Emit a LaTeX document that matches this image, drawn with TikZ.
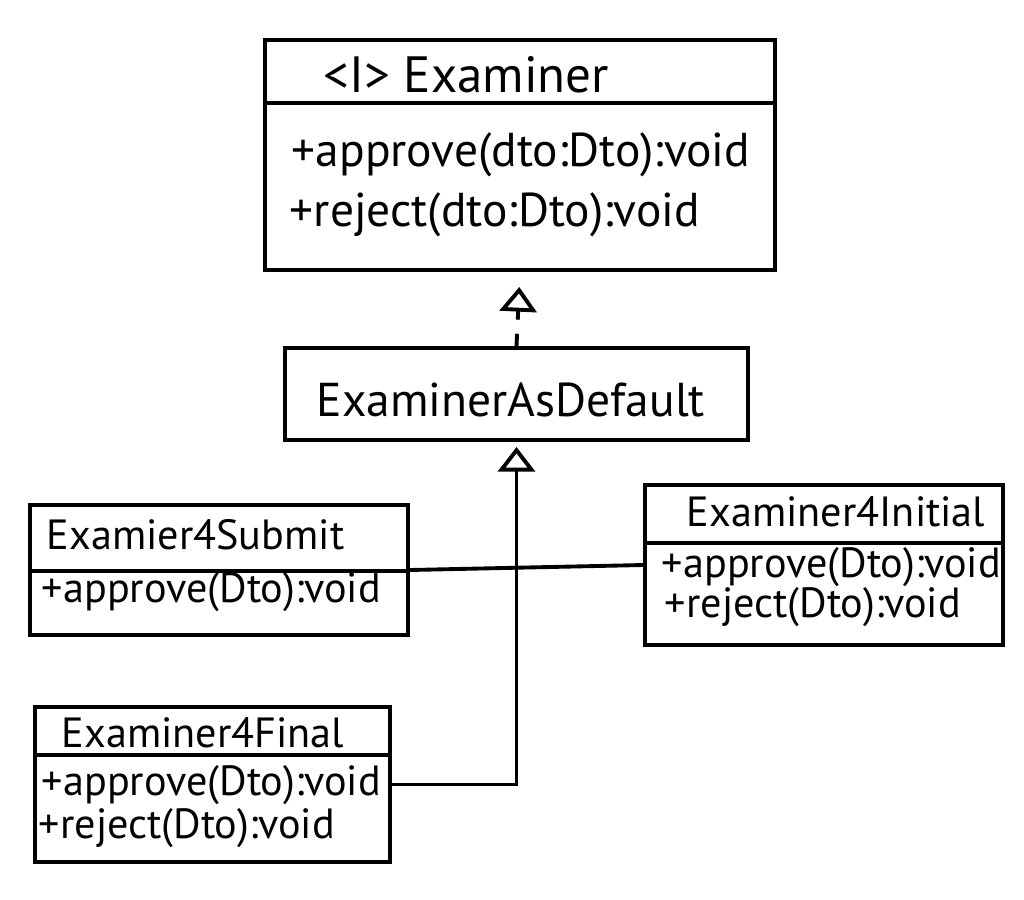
\documentclass[tikz,border=0pt]{standalone}
\usepackage{fontspec}
\setmainfont{PT Sans}
\usetikzlibrary{arrows.meta}

\begin{document}
\begin{tikzpicture}[x=0.01cm,y=-0.01cm,line width=1.1pt,
    classbox/.style={draw,rectangle,inner sep=0pt},
    member/.style={inner sep=0pt,anchor=west,font=\fontsize{12}{14}\selectfont},
    bigmember/.style={member,font=\fontsize{13.5}{16}\selectfont},
    inherit/.style={-{Triangle[open,length=7pt,width=10.5pt]}}]
  \useasboundingbox (0,0) rectangle (1024,899);
  % class boxes
  \node[classbox,minimum width=5.1cm,minimum height=2.3cm] (exm) at (520,155) {};
  \node[classbox,minimum width=4.63cm,minimum height=0.92cm] (dflt) at (516.5,394) {};
  \node[classbox,minimum width=3.78cm,minimum height=1.3cm] (sub) at (219,570) {};
  \node[classbox,minimum width=3.58cm,minimum height=1.6cm] (ini) at (824,565) {};
  \node[classbox,minimum width=3.55cm,minimum height=1.55cm] (fin) at (212.5,784.5) {};
  \draw ([yshift=-0.65cm]exm.north west) -- ([yshift=-0.65cm]exm.north east);
  \draw ([yshift=-0.68cm]sub.north west) -- ([yshift=-0.68cm]sub.north east);
  \draw ([yshift=-0.6cm]ini.north west) -- ([yshift=-0.6cm]ini.north east);
  \draw ([yshift=-0.5cm]fin.north west) -- ([yshift=-0.5cm]fin.north east);
  % texts
  \node[bigmember,font=\fontsize{14.5}{17}\selectfont] (exmTitle) at (322,75) {<I> Examiner};
  \node[bigmember] (exmApprove) at (290,155) {+approve(dto:Dto):void};
  \node[bigmember] (exmReject) at (288,215) {+reject(dto:Dto):void};
  \node[bigmember] (dfltTitle) at (315,400) {ExaminerAsDefault};
  \node[member] (subTitle) at (45,535) {Examier4Submit};
  \node[member] (subApprove) at (40,592) {+approve(Dto):void};
  \node[member] (iniTitle) at (685,512) {Examiner4Initial};
  \node[member] (iniApprove) at (660,567) {+approve(Dto):void};
  \node[member] (iniReject) at (663,607) {+reject(Dto):void};
  \node[member] (finTitle) at (60,733) {Examiner4Final};
  \node[member] (finApprove) at (40,785) {+approve(Dto):void};
  \node[member] (finReject) at (37,828) {+reject(Dto):void};
  % connectors
  \draw[inherit,dashed,dash pattern=on 3.5pt off 4pt,shorten >=0.15cm] (dflt.north) -- (exm.south);
  \draw[inherit,shorten >=0.05cm] (fin.east) -- (fin.east -| dflt.south) -- (dflt.south);
  \draw (sub.east) -- (ini.west);
\end{tikzpicture}
\end{document}
